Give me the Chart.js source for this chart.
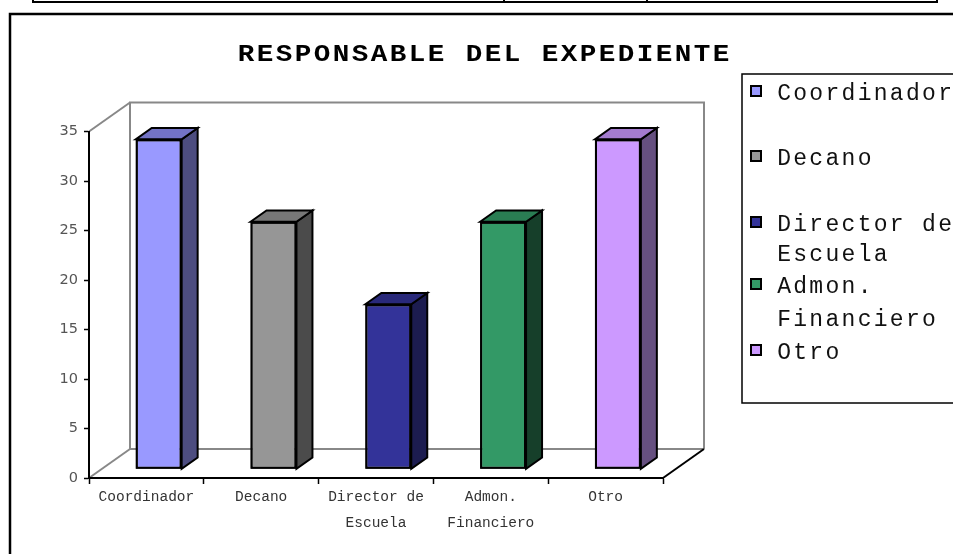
<!DOCTYPE html>
<html>
<head>
<meta charset="utf-8">
<title>Responsable del expediente</title>
<script src="https://cdn.jsdelivr.net/npm/chart.js@4.4.1/dist/chart.umd.min.js"></script>
<style>
  html, body { margin: 0; padding: 0; background: #ffffff; }
  #wrap { width: 953px; height: 554px; position: relative; }
</style>
</head>
<body>
<div id="wrap"><canvas id="chart" width="953" height="554"></canvas></div>
<script>
// ---- data ----
const chartTitle = 'RESPONSABLE DEL EXPEDIENTE';
const categories = ['Coordinador', 'Decano', 'Director de Escuela', 'Admon. Financiero', 'Otro'];
const axisLabels = [['Coordinador'], ['Decano'], ['Director de', 'Escuela'], ['Admon.', 'Financiero'], ['Otro']];
const legendLabels = [['Coordinador'], ['Decano'], ['Director de', 'Escuela'], ['Admon.', 'Financiero'], ['Otro']];
const values = [33.33, 25, 16.67, 25, 33.33];
const yTicks = [0, 5, 10, 15, 20, 25, 30, 35];

// ---- styling ----
const frontColors = ['#9999FF', '#969696', '#333399', '#339966', '#CC99FF'];
const sideColors  = ['#4D4D80', '#4B4B4B', '#1C1C50', '#163F2A', '#665080'];
const topColors   = ['#7373C6', '#777777', '#29297A', '#2A7D53', '#A47BCF'];
const MONO = '"Courier New", "Liberation Mono", monospace';
const DEPTH = { x: 41, y: -29 };      // offset from the front plane to the back wall
const BAR_Z0 = 0.30;                  // bar front face position inside the depth
const BAR_DZ = 0.39;                  // bar thickness as a fraction of the depth

function line(ctx, pts, color, width) {
  ctx.beginPath();
  ctx.moveTo(pts[0][0], pts[0][1]);
  for (let i = 1; i < pts.length; i++) ctx.lineTo(pts[i][0], pts[i][1]);
  ctx.strokeStyle = color;
  ctx.lineWidth = width;
  ctx.stroke();
}

// monospaced text with a fixed pitch per character (optionally stretched)
function spacedText(ctx, text, xLeft, baseline, pitch, hscale) {
  for (let i = 0; i < text.length; i++) {
    const ch = text[i];
    if (ch === ' ') continue;
    ctx.save();
    ctx.translate(xLeft + i * pitch + pitch / 2, baseline);
    ctx.scale(hscale, 1);
    ctx.textAlign = 'center';
    ctx.textBaseline = 'alphabetic';
    ctx.fillText(ch, 0, 0);
    ctx.restore();
  }
}

// page frame, title, 3D walls and legend
const scenePlugin = {
  id: 'scene',
  beforeDraw(chart) {
    const ctx = chart.ctx;
    const a = chart.chartArea;
    ctx.save();
    ctx.fillStyle = '#ffffff';
    ctx.fillRect(0, 0, chart.width, chart.height);

    // table edge above the chart
    ctx.lineCap = 'square';
    line(ctx, [[33, 0], [33, 2], [937, 2], [937, 0]], '#000', 2);
    line(ctx, [[504, 0], [504, 2]], '#000', 2);
    line(ctx, [[647, 0], [647, 2]], '#000', 2);
    // chart frame
    line(ctx, [[10, 560], [10, 14], [960, 14]], '#000', 2.5);

    // title
    ctx.fillStyle = '#000';
    ctx.font = 'bold 23px ' + MONO;
    const pitch = 19.0;
    const w = chartTitle.length * pitch;
    spacedText(ctx, chartTitle, 483.5 - w / 2, 61, pitch, 1.2);

    // back wall and floor
    const bx = DEPTH.x, by = DEPTH.y;
    const wallGray = '#888888';
    ctx.lineCap = 'butt';
    line(ctx, [[a.left + bx, a.bottom + by], [a.left + bx, a.top + by], [a.right + bx, a.top + by], [a.right + bx, a.bottom + by]], wallGray, 2);
    line(ctx, [[a.left + bx, a.bottom + by], [a.right + bx, a.bottom + by]], wallGray, 2);
    line(ctx, [[a.left, a.top], [a.left + bx, a.top + by]], wallGray, 2);
    line(ctx, [[a.left, a.bottom], [a.left + bx, a.bottom + by]], wallGray, 2);
    line(ctx, [[a.right, a.bottom], [a.right + bx, a.bottom + by]], '#000', 2);
    ctx.restore();
  },
  beforeDatasetsDraw(chart) {
    // bars stand inside the floor depth
    chart.ctx.save();
    chart.ctx.translate(DEPTH.x * BAR_Z0, DEPTH.y * BAR_Z0);
  },
  afterDatasetsDraw(chart) {
    const ctx = chart.ctx;
    const dx = DEPTH.x * BAR_DZ, dy = DEPTH.y * BAR_DZ;
    const meta = chart.getDatasetMeta(0);
    ctx.lineWidth = 2;
    ctx.lineJoin = 'miter';
    ctx.strokeStyle = '#000';
    meta.data.forEach((bar, i) => {
      const p = bar.getProps(['x', 'y', 'base', 'width'], true);
      const l = p.x - p.width / 2, r = p.x + p.width / 2;
      const t = p.y, b = p.base;
      // right side
      ctx.beginPath();
      ctx.moveTo(r, t); ctx.lineTo(r + dx, t + dy); ctx.lineTo(r + dx, b + dy); ctx.lineTo(r, b); ctx.closePath();
      ctx.fillStyle = sideColors[i]; ctx.fill(); ctx.stroke();
      // top
      ctx.beginPath();
      ctx.moveTo(l, t); ctx.lineTo(l + dx, t + dy); ctx.lineTo(r + dx, t + dy); ctx.lineTo(r, t); ctx.closePath();
      ctx.fillStyle = topColors[i]; ctx.fill(); ctx.stroke();
      // front outline on top of the joins
      ctx.strokeRect(l + 1, t + 1, p.width - 2, b - t - 2);
    });
    ctx.restore();
  },
  afterDraw(chart) {
    const ctx = chart.ctx;
    ctx.save();
    // legend box
    ctx.strokeStyle = '#000';
    ctx.lineWidth = 1.5;
    ctx.strokeRect(742, 74, 240, 329);
    const baselines = [[100], [165], [231, 261], [293, 326], [359]];
    ctx.font = '23px ' + MONO;
    legendLabels.forEach((lines, i) => {
      const y0 = baselines[i][0];
      ctx.fillStyle = frontColors[i];
      ctx.fillRect(751, y0 - 14, 10, 10);
      ctx.lineWidth = 2;
      ctx.strokeStyle = '#000';
      ctx.strokeRect(751, y0 - 14, 10, 10);
      ctx.fillStyle = '#111';
      lines.forEach((txt, k) => spacedText(ctx, txt, 776, baselines[i][k], 16.1, 1));
    });
    ctx.restore();
  }
};

new Chart(document.getElementById('chart'), {
  type: 'bar',
  data: {
    labels: axisLabels,
    datasets: [{
      label: chartTitle,
      data: values,
      backgroundColor: frontColors,
      borderColor: '#000',
      borderWidth: 2,
      borderSkipped: false,
      barPercentage: 0.40,
      categoryPercentage: 1.0,
      clip: false
    }]
  },
  options: {
    responsive: false,
    animation: false,
    events: [],
    layout: { padding: { left: 39, right: 290, top: 131.5, bottom: 16 } },
    plugins: { legend: { display: false }, title: { display: false }, tooltip: { enabled: false } },
    scales: {
      x: {
        grid: { offset: true, drawOnChartArea: false, tickLength: 6, color: '#000', tickColor: '#000', tickWidth: 1.5 },
        border: { color: '#000', width: 2 },
        ticks: {
          color: '#333',
          padding: 0,
          maxRotation: 0,
          autoSkip: false,
          font: { family: MONO, size: 14.5, lineHeight: 1.8 }
        },
        afterFit(s) { s.height = 60; }
      },
      y: {
        min: 0,
        max: 35,
        afterBuildTicks(s) { s.ticks = yTicks.map(v => ({ value: v })); },
        grid: { drawOnChartArea: false, tickLength: 5, color: '#000', tickColor: '#000', tickWidth: 1.5 },
        border: { color: '#000', width: 2 },
        ticks: {
          color: '#555',
          padding: 6,
          font: { family: '"DejaVu Sans", sans-serif', size: 14.5 }
        },
        afterFit(s) { s.width = 50; }
      }
    }
  },
  plugins: [scenePlugin]
});
</script>
</body>
</html>
